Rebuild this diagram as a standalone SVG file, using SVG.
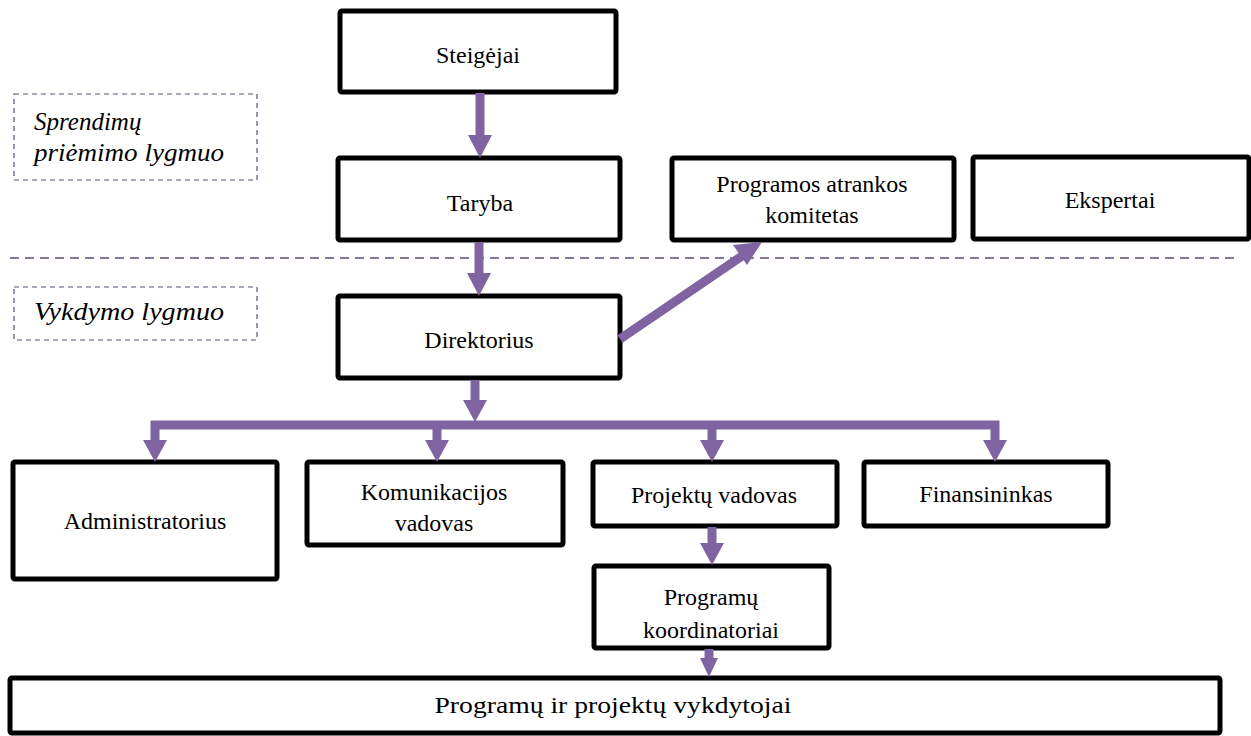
<svg xmlns="http://www.w3.org/2000/svg" width="1251" height="736" viewBox="0 0 1251 736">
<style>
.box{fill:#fff;stroke:#000;stroke-width:5;}
.t{font-size:24px;fill:#000;text-anchor:middle;}
.lbl{font-style:italic;font-size:25px;fill:#000;}
.dash{fill:none;stroke:#604A7B;stroke-width:1.2;stroke-dasharray:5 4;}
.hl{fill:none;stroke:#604A7B;stroke-width:1.6;stroke-dasharray:9 6;}
.sh{fill:none;stroke:#8064A2;stroke-width:9;}
.hd{fill:#8064A2;}
</style>
<rect width="1251" height="736" fill="#fff"/>
<g font-family="Liberation Serif, serif">
<g id="levels">
<rect class="dash" x="14" y="94" width="243" height="86"/>
<text class="lbl" x="34" y="130">Sprendimų</text>
<text class="lbl" x="34" y="161" textLength="190" lengthAdjust="spacingAndGlyphs">priėmimo lygmuo</text>
<rect class="dash" x="14" y="287" width="243" height="53"/>
<text class="lbl" x="34" y="320" textLength="190" lengthAdjust="spacingAndGlyphs">Vykdymo lygmuo</text>
<line class="hl" x1="10" y1="258" x2="1240" y2="258"/>
</g>
<g id="steigejai"><rect class="box" x="340" y="11" width="276" height="81" rx="2"/><text class="t" x="478" y="63">Steigėjai</text></g>
<g id="taryba"><rect class="box" x="338" y="158" width="282" height="82" rx="2"/><text class="t" x="480" y="211">Taryba</text></g>
<g id="komitetas"><rect class="box" x="672" y="158" width="282" height="82" rx="2"/><text class="t" x="812" y="192">Programos atrankos</text><text class="t" x="812" y="223">komitetas</text></g>
<g id="ekspertai"><rect class="box" x="973" y="157" width="276" height="82" rx="2"/><text class="t" x="1110" y="208">Ekspertai</text></g>
<g id="direktorius"><rect class="box" x="338" y="296" width="282" height="82" rx="2"/><text class="t" x="479" y="348">Direktorius</text></g>
<g id="administratorius"><rect class="box" x="13" y="462" width="264" height="117" rx="2"/><text class="t" x="145" y="529">Administratorius</text></g>
<g id="komunikacijos"><rect class="box" x="307" y="462" width="256" height="83" rx="2"/><text class="t" x="434" y="500">Komunikacijos</text><text class="t" x="434" y="531">vadovas</text></g>
<g id="projektu"><rect class="box" x="593" y="462" width="244" height="64" rx="2"/><text class="t" x="714" y="503">Projektų vadovas</text></g>
<g id="finansininkas"><rect class="box" x="864" y="462" width="244" height="64" rx="2"/><text class="t" x="986" y="502">Finansininkas</text></g>
<g id="koordinatoriai"><rect class="box" x="594" y="566" width="235" height="82" rx="2"/><text class="t" x="711" y="605">Programų</text><text class="t" x="711" y="638">koordinatoriai</text></g>
<g id="vykdytojai"><rect class="box" x="10" y="678" width="1210" height="55" rx="2"/><text class="t" x="613" y="713" textLength="357" lengthAdjust="spacingAndGlyphs">Programų ir projektų vykdytojai</text></g>
</g>
<g id="connectors">
<line class="sh" x1="480" y1="93" x2="480" y2="136"/><polygon class="hd" points="468,135 492,135 480,158"/>
<line class="sh" x1="479" y1="242" x2="479" y2="274"/><polygon class="hd" points="467,273 491,273 479,296"/>
<line class="sh" x1="620" y1="339" x2="742" y2="256"/><polygon class="hd" points="733,245 747,265 762,242"/>
<line class="sh" x1="475" y1="380" x2="475" y2="402"/><polygon class="hd" points="463,400 487,400 475,422"/>
<path class="sh" d="M155,446 V425 H995 V446"/>
<polygon class="hd" points="143,440 167,440 155,462"/>
<line class="sh" x1="437" y1="425" x2="437" y2="442"/><polygon class="hd" points="425,440 449,440 437,462"/>
<line class="sh" x1="712" y1="425" x2="712" y2="442"/><polygon class="hd" points="700,440 724,440 712,462"/>
<polygon class="hd" points="983,440 1007,440 995,462"/>
<line class="sh" x1="712" y1="527" x2="712" y2="546"/><polygon class="hd" points="700,543 724,543 712,565"/>
<line class="sh" x1="709" y1="649" x2="709" y2="660"/><polygon class="hd" points="700,658 718,658 709,677"/>
</g>
</svg>
